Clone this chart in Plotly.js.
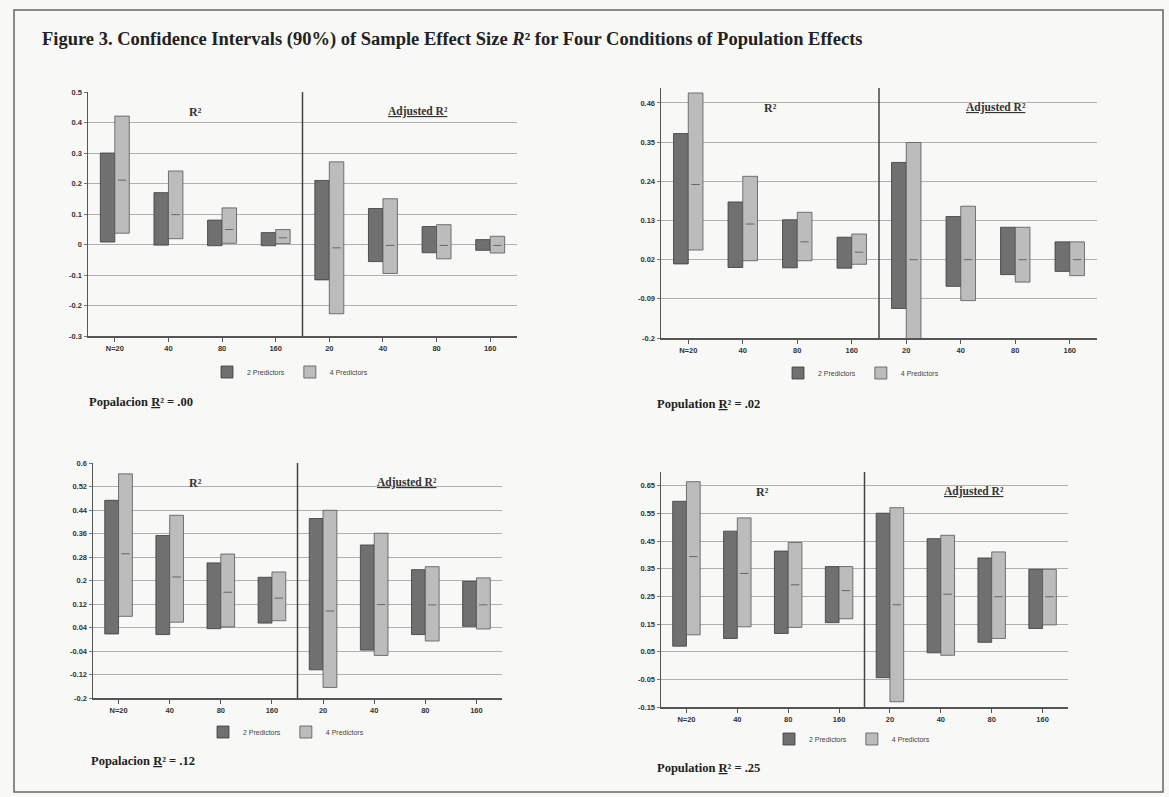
<!DOCTYPE html>
<html><head><meta charset="utf-8">
<script src="https://cdn.plot.ly/plotly-3.0.1.min.js"></script>
<style>html,body{margin:0;padding:0;background:#f8f8f6}</style>
</head><body><div id="chart" style="width:1169px;height:797px"></div>
<script>
// ---- data ----
const categories = ["N=20","40","80","160","20","40","80","160"];
const seriesNames = ["2 Predictors","4 Predictors"];

// Panel 1: Population R2 = .00
const p1Low2  = [0.008,-0.002,-0.004,-0.004,-0.116,-0.056,-0.027,-0.019];
const p1High2 = [0.300, 0.170, 0.080, 0.039, 0.210, 0.118, 0.059, 0.016];
const p1Low4  = [0.037, 0.019, 0.004, 0.003,-0.227,-0.095,-0.047,-0.028];
const p1High4 = [0.421, 0.241, 0.120, 0.049, 0.271, 0.150, 0.065, 0.027];
const p1Mean4 = [0.211, 0.098, 0.049, 0.022,-0.011,-0.003,-0.003,-0.003];
const p1Ticks = [-0.3,-0.2,-0.1,0,0.1,0.2,0.3,0.4,0.5];
const p1TickText = ["-0.3","-0.2","-0.1","0","0.1","0.2","0.3","0.4","0.5"];

// Panel 2: Population R2 = .02
const p2Low2  = [0.008,-0.002,-0.003,-0.004,-0.117,-0.055,-0.022,-0.013];
const p2High2 = [0.374, 0.182, 0.132, 0.083, 0.293, 0.141, 0.111, 0.070];
const p2Low4  = [0.047, 0.017, 0.017, 0.007,-0.210,-0.095,-0.043,-0.025];
const p2High4 = [0.488, 0.254, 0.153, 0.092, 0.349, 0.170, 0.111, 0.070];
const p2Mean4 = [0.231, 0.120, 0.070, 0.041, 0.020, 0.020, 0.020, 0.020];
const p2Ticks = [-0.2,-0.09,0.02,0.13,0.24,0.35,0.46];
const p2TickText = ["-0.2","-0.09","0.02","0.13","0.24","0.35","0.46"];

// Panel 3: Population R2 = .12
const p3Low2  = [0.018, 0.016, 0.036, 0.055,-0.104,-0.037, 0.016, 0.044];
const p3High2 = [0.473, 0.353, 0.260, 0.211, 0.411, 0.321, 0.237, 0.197];
const p3Low4  = [0.078, 0.058, 0.042, 0.063,-0.164,-0.055,-0.006, 0.035];
const p3High4 = [0.563, 0.422, 0.290, 0.229, 0.439, 0.361, 0.247, 0.209];
const p3Mean4 = [0.291, 0.212, 0.160, 0.140, 0.096, 0.118, 0.117, 0.117];
const p3Ticks = [-0.2,-0.12,-0.04,0.04,0.12,0.2,0.28,0.36,0.44,0.52,0.6];
const p3TickText = ["-0.2","-0.12","-0.04","0.04","0.12","0.2","0.28","0.36","0.44","0.52","0.6"];

// Panel 4: Population R2 = .25
const p4Low2  = [0.070, 0.098, 0.116, 0.155,-0.044, 0.046, 0.084, 0.134];
const p4High2 = [0.594, 0.486, 0.414, 0.358, 0.551, 0.459, 0.389, 0.348];
const p4Low4  = [0.111, 0.140, 0.138, 0.169,-0.131, 0.037, 0.098, 0.147];
const p4High4 = [0.665, 0.534, 0.445, 0.358, 0.571, 0.471, 0.411, 0.348];
const p4Mean4 = [0.394, 0.333, 0.292, 0.271, 0.220, 0.258, 0.249, 0.249];
const p4Ticks = [-0.15,-0.05,0.05,0.15,0.25,0.35,0.45,0.55,0.65];
const p4TickText = ["-0.15","-0.05","0.05","0.15","0.25","0.35","0.45","0.55","0.65"];

const popLabels = ["Popalacion", "Population", "Popalacion", "Population"];
const popValues = [".00", ".02", ".12", ".25"];

// ---- layout helpers (pixel geometry of the page) ----
const W = 1169, H = 797;
const fx = px => px / W;
const fy = py => 1 - py / H;

const panels = [
  {low2:p1Low2, high2:p1High2, low4:p1Low4, high4:p1High4, mean4:p1Mean4, ticks:p1Ticks, tt:p1TickText,
   range:[-0.3,0.5], box:[88,517,92,336], legend:[207,372], pop:[87,402]},
  {low2:p2Low2, high2:p2High2, low4:p2Low4, high4:p2High4, mean4:p2Mean4, ticks:p2Ticks, tt:p2TickText,
   range:[-0.2,0.502], box:[661,1097,88,338], legend:[778,373], pop:[655,404]},
  {low2:p3Low2, high2:p3High2, low4:p3Low4, high4:p3High4, mean4:p3Mean4, ticks:p3Ticks, tt:p3TickText,
   range:[-0.2,0.6], box:[93,502,463,698], legend:[203,732], pop:[89,761]},
  {low2:p4Low2, high2:p4High2, low4:p4Low4, high4:p4High4, mean4:p4Mean4, ticks:p4Ticks, tt:p4TickText,
   range:[-0.15,0.70], box:[661,1068,472,707], legend:[769,739], pop:[655,768]}
];

const DARK = '#707070', LIGHT = '#bcbcbc';
const BW = 0.27;
const idx = categories.map((c, i) => i);
const traces = [];
const layout = {
  width: W, height: H,
  margin: {l:0, r:0, t:0, b:0},
  paper_bgcolor: '#f8f8f6', plot_bgcolor: '#f8f8f6',
  barmode: 'overlay',
  showlegend: true,
  annotations: [], shapes: []
};
const tickFont = {family:'Liberation Sans, Arial, sans-serif', size:7.5, color:'#333', weight:'bold'};
const serif = 'Liberation Serif, Times New Roman, serif';

panels.forEach((p, k) => {
  const n = k + 1;
  const xa = 'x' + (n === 1 ? '' : n), ya = 'y' + (n === 1 ? '' : n);
  const lg = 'legend' + (n === 1 ? '' : n);
  traces.push({
    type:'bar', name:seriesNames[0], x:idx, base:p.low2,
    y:p.high2.map((h, i) => h - p.low2[i]),
    offset:-BW, width:BW, xaxis:xa, yaxis:ya, legend:lg,
    marker:{color:DARK, line:{color:'#3a3a3a', width:0.8}}, hoverinfo:'skip'
  });
  traces.push({
    type:'bar', name:seriesNames[1], x:idx, base:p.low4,
    y:p.high4.map((h, i) => h - p.low4[i]),
    offset:0, width:BW, xaxis:xa, yaxis:ya, legend:lg,
    marker:{color:LIGHT, line:{color:'#555', width:0.8}}, hoverinfo:'skip'
  });
  traces.push({
    type:'scatter', mode:'markers', x:idx.map(i => i + BW/2), y:p.mean4,
    xaxis:xa, yaxis:ya, showlegend:false, hoverinfo:'skip',
    marker:{symbol:'line-ew', size:6, line:{color:'#666', width:1}}
  });
  const [x0, x1, y0, y1] = p.box;
  layout['xaxis' + (n === 1 ? '' : n)] = {
    domain:[fx(x0), fx(x1)], anchor:ya, range:[-0.5, 7.5],
    tickvals:idx, ticktext:categories, ticks:'outside', ticklen:4, tickcolor:'#555',
    showline:true, linecolor:'#555', linewidth:1.5, showgrid:false, zeroline:false,
    tickfont:tickFont, fixedrange:true
  };
  layout['yaxis' + (n === 1 ? '' : n)] = {
    domain:[fy(y1), fy(y0)], anchor:xa, range:p.range,
    tickvals:p.ticks, ticktext:p.tt, ticks:'outside', ticklen:3, tickcolor:'#777',
    showline:true, linecolor:'#555', linewidth:1.5, showgrid:true, gridcolor:'#b0b0b0', gridwidth:1,
    zeroline:false, tickfont:tickFont, fixedrange:true
  };
  layout[lg] = {
    x:fx(p.legend[0]), y:fy(p.legend[1]), xanchor:'left', yanchor:'middle',
    orientation:'h', bgcolor:'rgba(0,0,0,0)', itemwidth:30,
    font:{family:'Liberation Sans, Arial, sans-serif', size:7, color:'#444'}
  };
  layout.shapes.push({
    type:'line', xref:xa, yref:ya + ' domain', x0:3.5, x1:3.5, y0:0, y1:1,
    line:{color:'#444', width:1.5}
  });
  layout.annotations.push({
    xref:xa, yref:ya + ' domain', x:1.5, y:0.955, showarrow:false,
    text:'R²', font:{family:serif, size:12, color:'#333', weight:'bold'}
  });
  layout.annotations.push({
    xref:xa, yref:ya + ' domain', x:5.65, y:0.955, showarrow:false,
    text:'<span style="text-decoration:underline;font-size:11.5px">Adjusted R²</span>',
    font:{family:serif, size:11.5, color:'#333', weight:'bold'}
  });
  layout.annotations.push({
    xref:'paper', yref:'paper', x:fx(p.pop[0]), y:fy(p.pop[1]), xanchor:'left', yanchor:'middle',
    showarrow:false,
    text:popLabels[k] + ' <span style="text-decoration:underline;font-size:12.5px">R</span>² = ' + popValues[k],
    font:{family:serif, size:12.5, color:'#222', weight:'bold'}
  });
});

layout.annotations.push({
  xref:'paper', yref:'paper', x:fx(40), y:fy(40), xanchor:'left', yanchor:'middle', showarrow:false,
  text:'Figure 3. Confidence Intervals (90%) of Sample Effect Size <span style="font-style:italic;font-size:18.5px">R</span>² for Four Conditions of Population Effects',
  font:{family:serif, size:18.5, color:'#222', weight:'bold'}
});
layout.shapes.push({
  type:'rect', xref:'paper', yref:'paper', x0:fx(14), x1:fx(1163), y0:fy(792), y1:fy(10),
  line:{color:'#666', width:1.5}, fillcolor:'rgba(0,0,0,0)'
});

Plotly.newPlot('chart', traces, layout, {displayModeBar:false, staticPlot:true});
</script></body></html>
